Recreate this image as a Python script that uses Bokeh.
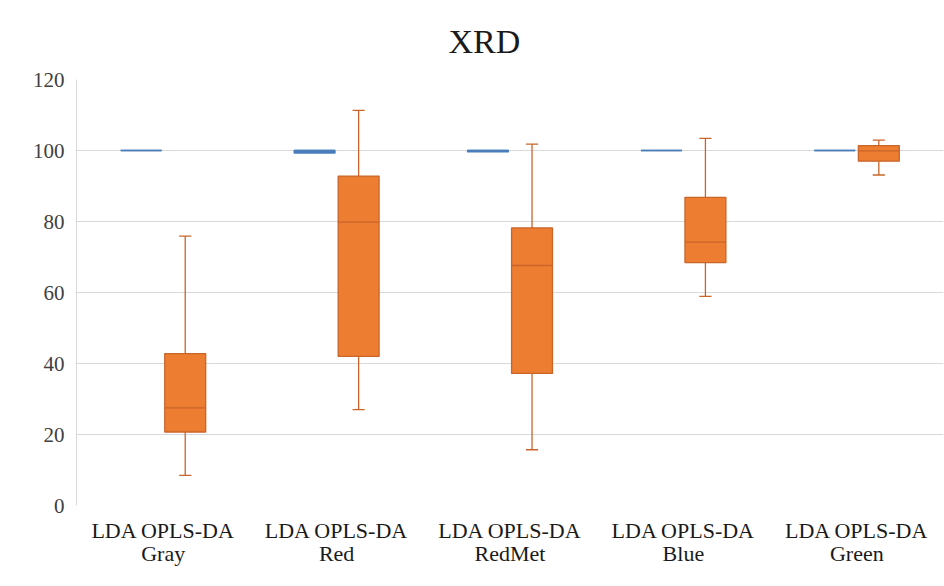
from bokeh.plotting import figure
from bokeh.models import FactorRange, Range1d, ColumnDataSource, FixedTicker
from bokeh.transform import dodge
from bokeh.embed import file_html
from bokeh.resources import INLINE

groups = ["Gray", "Red", "RedMet", "Blue", "Green"]
categories = ["LDA OPLS-DA\n" + g for g in groups]
y_ticks = [0, 20, 40, 60, 80, 100, 120]

# LDA series (blue)
lda_lower = [100, 99.3, 99.6, 100, 100]
lda_q1 = [100, 99.3, 99.6, 100, 100]
lda_median = [100, 100, 100, 100, 100]
lda_q3 = [100, 100, 100, 100, 100]
lda_upper = [100, 100, 100, 100, 100]

# OPLS-DA series (orange)
opls_lower = [8.5, 27.0, 15.7, 58.9, 93.1]
opls_q1 = [20.7, 42.0, 37.2, 68.4, 97.0]
opls_median = [27.5, 79.8, 67.6, 74.2, 99.9]
opls_q3 = [42.8, 92.8, 78.2, 86.8, 101.4]
opls_upper = [75.9, 111.3, 101.8, 103.4, 102.9]

SERIF = "'Liberation Serif', serif"
BLUE = "#4A7EBB"
ORANGE = "#ED7D31"
ORANGE_LINE = "#C9642A"

p = figure(x_range=FactorRange(factors=categories), y_range=Range1d(0, 120),
           width=944, height=586, output_backend="svg", toolbar_location=None,
           min_border_left=76, min_border_right=1, min_border_top=78, min_border_bottom=81,
           title="XRD")
p.outline_line_color = None
p.background_fill_color = "white"
p.border_fill_color = "white"

p.title.align = "left"
p.title.offset = 372
p.title.text_font = SERIF
p.title.text_font_size = "34px"
p.title.text_font_style = "normal"
p.title.text_color = "#1a1a1a"
p.title.standoff = 40

p.xgrid.grid_line_color = None
p.ygrid.grid_line_color = "#d9d9d9"
p.ygrid.grid_line_width = 1

p.yaxis.ticker = FixedTicker(ticks=y_ticks)
p.yaxis.axis_line_color = "#d9d9d9"
p.yaxis.major_tick_line_color = None
p.yaxis.minor_tick_line_color = None
p.yaxis.major_label_standoff = 6
p.yaxis.major_label_text_font = SERIF
p.yaxis.major_label_text_font_size = "21px"
p.yaxis.major_label_text_color = "#404040"

p.xaxis.axis_line_color = None
p.xaxis.major_tick_line_color = None
p.xaxis.major_label_standoff = 6
p.xaxis.major_label_text_font = SERIF
p.xaxis.major_label_text_font_size = "22px"
p.xaxis.major_label_text_line_height = 0.95
p.xaxis.major_label_text_color = "#1a1a1a"

OFF = 0.127
W = 0.236
CAP = 0.035


def draw_series(lower, q1, med, q3, upper, off, fill, line, whisk=True):
    src = ColumnDataSource(dict(cat=categories, lower=lower, q1=q1, med=med, q3=q3, upper=upper))
    if whisk:
        p.segment(x0=dodge("cat", off, range=p.x_range), y0="q3",
                  x1=dodge("cat", off, range=p.x_range), y1="upper",
                  source=src, line_color=line, line_width=1.3)
        p.segment(x0=dodge("cat", off, range=p.x_range), y0="q1",
                  x1=dodge("cat", off, range=p.x_range), y1="lower",
                  source=src, line_color=line, line_width=1.3)
        p.segment(x0=dodge("cat", off - CAP, range=p.x_range), y0="upper",
                  x1=dodge("cat", off + CAP, range=p.x_range), y1="upper",
                  source=src, line_color=line, line_width=1.3)
        p.segment(x0=dodge("cat", off - CAP, range=p.x_range), y0="lower",
                  x1=dodge("cat", off + CAP, range=p.x_range), y1="lower",
                  source=src, line_color=line, line_width=1.3)
    p.vbar(x=dodge("cat", off, range=p.x_range), width=W, top="q3", bottom="q1",
           source=src, fill_color=fill, line_color=line, line_width=1.3)
    p.segment(x0=dodge("cat", off - W / 2, range=p.x_range), y0="med",
              x1=dodge("cat", off + W / 2, range=p.x_range), y1="med",
              source=src, line_color=line, line_width=1.3)


draw_series(lda_lower, lda_q1, lda_median, lda_q3, lda_upper, -OFF, BLUE, BLUE, whisk=False)
draw_series(opls_lower, opls_q1, opls_median, opls_q3, opls_upper, OFF, ORANGE, ORANGE_LINE)

open("out.html", "w").write(file_html(p, INLINE))
